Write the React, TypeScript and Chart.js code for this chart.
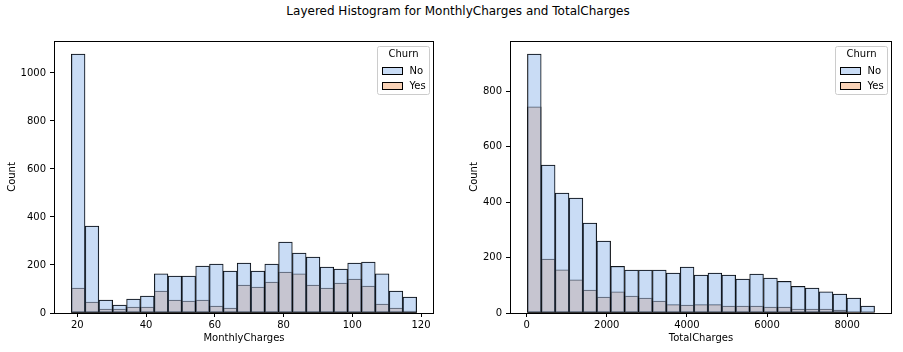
import React, { useEffect, useRef } from "react";
import { Chart, registerables } from "chart.js";

Chart.register(...registerables);

// ---- MonthlyCharges histogram (25 bins, 18.25 .. 118.75) ----
const mcBinCenters = [
  20.26, 24.28, 28.3, 32.32, 36.34, 40.36, 44.38, 48.4, 52.42, 56.44, 60.46, 64.48, 68.5,
  72.52, 76.54, 80.56, 84.58, 88.6, 92.62, 96.64, 100.66, 104.68, 108.7, 112.72, 116.74,
];
const mcNo = [
  1079, 362, 54, 33, 58, 71, 163, 154, 154, 196, 204, 175, 208, 175, 204, 296, 250, 233, 192,
  183, 208, 212, 163, 92, 67,
];
const mcYes = [
  104, 46, 17, 17, 25, 25, 92, 54, 50, 54, 29, 21, 117, 108, 129, 171, 163, 117, 104, 125, 142,
  112, 37, 21, 8,
];
const mcXTicks = [20, 40, 60, 80, 100, 120];
const mcYTicks = [0, 200, 400, 600, 800, 1000];

// ---- TotalCharges histogram (25 bins, 18.8 .. 8684.8) ----
const tcBinCenters = [
  192.12, 538.76, 885.4, 1232.04, 1578.68, 1925.32, 2271.96, 2618.6, 2965.24, 3311.88, 3658.52,
  4005.16, 4351.8, 4698.44, 5045.08, 5391.72, 5738.36, 6085.0, 6431.64, 6778.28, 7124.92,
  7471.56, 7818.2, 8164.84, 8511.48,
];
const tcNo = [
  935, 534, 433, 415, 325, 260, 169, 155, 155, 155, 144, 166, 137, 144, 137, 123, 141, 126, 115,
  97, 90, 77, 69, 54, 25,
];
const tcYes = [
  744, 195, 156, 120, 83, 58, 77, 61, 54, 43, 31, 29, 31, 31, 25, 25, 25, 22, 22, 14, 14, 14, 11,
  4, 0,
];
const tcXTicks = [0, 2000, 4000, 6000, 8000];
const tcYTicks = [0, 200, 400, 600, 800];

const legendTitle = "Churn";
const hueLabels = ["No", "Yes"];

const FONT = "DejaVu Sans";
const NO_FILL = "rgba(147,186,235,0.5)";
const YES_FILL = "rgba(243,165,110,0.5)";

type HistProps = {
  left: number;
  width: number;
  centers: number[];
  no: number[];
  yes: number[];
  xTicks: number[];
  yTicks: number[];
  xMin: number;
  xMax: number;
  yMax: number;
  xTitle: string;
  yAxisWidth: number;
  padRight: number;
  yTitlePad: number;
};

const framePlugin = {
  id: "frameAndLegend",
  afterDraw(chart: any) {
    const { ctx, chartArea: ca } = chart;
    ctx.save();
    // frame (spines)
    ctx.strokeStyle = "#000";
    ctx.lineWidth = 1;
    ctx.strokeRect(
      Math.round(ca.left) + 0.5,
      Math.round(ca.top) + 0.5,
      Math.round(ca.right - ca.left) - 1,
      Math.round(ca.bottom - ca.top)
    );
    // legend
    const bw = 52;
    const bh = 48;
    const bx = Math.round(ca.right - 5 - bw) + 0.5;
    const by = Math.round(ca.top + 5) + 0.5;
    ctx.beginPath();
    const r = 2;
    ctx.moveTo(bx + r, by);
    ctx.lineTo(bx + bw - r, by);
    ctx.quadraticCurveTo(bx + bw, by, bx + bw, by + r);
    ctx.lineTo(bx + bw, by + bh - r);
    ctx.quadraticCurveTo(bx + bw, by + bh, bx + bw - r, by + bh);
    ctx.lineTo(bx + r, by + bh);
    ctx.quadraticCurveTo(bx, by + bh, bx, by + bh - r);
    ctx.lineTo(bx, by + r);
    ctx.quadraticCurveTo(bx, by, bx + r, by);
    ctx.closePath();
    ctx.fillStyle = "rgba(255,255,255,0.8)";
    ctx.fill();
    ctx.strokeStyle = "#cccccc";
    ctx.stroke();

    ctx.font = `10px "${FONT}"`;
    ctx.fillStyle = "#000";
    ctx.textAlign = "center";
    ctx.textBaseline = "middle";
    ctx.fillText(legendTitle, bx + bw / 2, ca.top + 13.5);

    const fills = [NO_FILL, YES_FILL];
    const rowY = [ca.top + 26, ca.top + 40.5];
    hueLabels.forEach((lab, i) => {
      const px = Math.round(bx + 4) + 0.5;
      const py = Math.round(rowY[i]) + 0.5;
      ctx.fillStyle = "#fff";
      ctx.fillRect(px, py, 20, 7);
      ctx.fillStyle = fills[i];
      ctx.fillRect(px, py, 20, 7);
      ctx.strokeStyle = "#000";
      ctx.lineWidth = 1;
      ctx.strokeRect(px, py, 20, 7);
      ctx.fillStyle = "#000";
      ctx.textAlign = "left";
      ctx.fillText(lab, bx + 32, py + 3.5);
    });
    ctx.restore();
  },
};

function Hist(p: HistProps) {
  const ref = useRef<HTMLCanvasElement>(null);
  useEffect(() => {
    if (!ref.current) return;
    const barStyle = {
      borderColor: "#000",
      borderWidth: 0.75,
      borderSkipped: false,
      inflateAmount: 0.25,
      barPercentage: 1,
      categoryPercentage: 1,
      grouped: false,
    };
    const chart = new Chart(ref.current, {
      type: "bar",
      data: {
        datasets: [
          {
            label: hueLabels[0],
            data: p.centers.map((c, i) => ({ x: c, y: p.no[i] })),
            backgroundColor: NO_FILL,
            ...barStyle,
          } as any,
          {
            label: hueLabels[1],
            data: p.centers.map((c, i) => ({ x: c, y: p.yes[i] })),
            backgroundColor: YES_FILL,
            ...barStyle,
          } as any,
        ],
      },
      options: {
        responsive: false,
        maintainAspectRatio: false,
        animation: false,
        layout: { padding: { top: 11, right: p.padRight, left: 0, bottom: 0 } },
        plugins: {
          legend: { display: false },
          tooltip: { enabled: false },
          title: { display: false },
        },
        scales: {
          x: {
            type: "linear",
            min: p.xMin,
            max: p.xMax,
            offset: false,
            grid: {
              display: true,
              offset: false,
              drawOnChartArea: false,
              drawTicks: true,
              tickLength: 4,
              tickColor: "#000",
            },
            border: { display: false },
            ticks: {
              autoSkip: false,
              maxRotation: 0,
              padding: 2,
              color: "#000",
              font: { family: FONT, size: 10 },
              callback: (v: any) => String(v),
            },
            afterBuildTicks: (s: any) => {
              s.ticks = p.xTicks.map((v) => ({ value: v }));
            },
            afterFit: (s: any) => {
              s.height = 39;
            },
            title: {
              display: true,
              text: p.xTitle,
              color: "#000",
              font: { family: FONT, size: 10 },
              padding: { top: 0, bottom: 8 },
            },
          },
          y: {
            type: "linear",
            min: 0,
            max: p.yMax,
            grid: {
              display: true,
              offset: false,
              drawOnChartArea: false,
              drawTicks: true,
              tickLength: 4,
              tickColor: "#000",
            },
            border: { display: false },
            ticks: {
              autoSkip: false,
              padding: 4,
              color: "#000",
              font: { family: FONT, size: 10 },
              callback: (v: any) => String(v),
            },
            afterBuildTicks: (s: any) => {
              s.ticks = p.yTicks.map((v) => ({ value: v }));
            },
            afterFit: (s: any) => {
              s.width = p.yAxisWidth;
            },
            title: {
              display: true,
              text: "Count",
              color: "#000",
              font: { family: FONT, size: 10 },
              padding: { top: p.yTitlePad, bottom: 0 },
            },
          },
        },
      } as any,
      plugins: [framePlugin],
    });
    return () => chart.destroy();
  }, []);
  return (
    <canvas
      ref={ref}
      width={p.width}
      height={322}
      style={{ position: "absolute", left: p.left, top: 30, width: p.width, height: 322 }}
    />
  );
}

export default function App() {
  return (
    <div
      style={{
        position: "fixed",
        left: 0,
        top: 0,
        width: 903,
        height: 352,
        background: "#fff",
        overflow: "hidden",
      }}
    >
      <div
        style={{
          position: "absolute",
          left: 458,
          top: 4,
          transform: "translateX(-50%)",
          whiteSpace: "nowrap",
          fontFamily: FONT,
          fontSize: 12,
          lineHeight: "15px",
          color: "#000",
        }}
      >
        Layered Histogram for MonthlyCharges and TotalCharges
      </div>
      <Hist
        left={0}
        width={440}
        centers={mcBinCenters}
        no={mcNo}
        yes={mcYes}
        xTicks={mcXTicks}
        yTicks={mcYTicks}
        xMin={13.225}
        xMax={123.775}
        yMax={1133}
        xTitle="MonthlyCharges"
        yAxisWidth={54}
        padRight={6}
        yTitlePad={6}
      />
      <Hist
        left={450}
        width={453}
        centers={tcBinCenters}
        no={tcNo}
        yes={tcYes}
        xTicks={tcXTicks}
        yTicks={tcYTicks}
        xMin={-414.5}
        xMax={9118.1}
        yMax={981.75}
        xTitle="TotalCharges"
        yAxisWidth={60}
        padRight={11}
        yTitlePad={18}
      />
    </div>
  );
}
